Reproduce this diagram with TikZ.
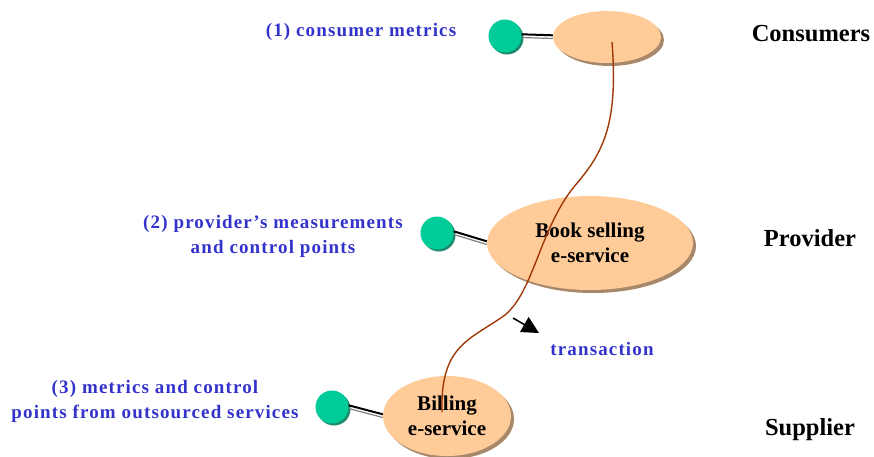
\documentclass[tikz,border=0pt]{standalone}
\usepackage{fontspec}
\setmainfont{Liberation Serif}
\newfontfamily\metricfont[LetterSpace=6]{Liberation Serif}
\definecolor{peach}{HTML}{FFCC99}
\definecolor{peachshadow}{HTML}{A8886A}
\definecolor{teal}{HTML}{00CC99}
\definecolor{tealshadow}{HTML}{1E8A6C}
\definecolor{labelblue}{HTML}{3333CC}
\definecolor{wire}{HTML}{A03808}
\tikzset{
  service/.style={ellipse, fill=peach, inner sep=0pt, align=center, font=\bfseries\fontsize{21}{25.5}\selectfont},
  probe/.style={circle, fill=teal, minimum size=33pt, inner sep=0pt},
  metric/.style={text=labelblue, font=\metricfont\bfseries\fontsize{19}{25}\selectfont, align=center},
  tier/.style={font=\bfseries\fontsize{24.5}{28}\selectfont},
}
\usetikzlibrary{shapes.geometric,arrows.meta}
\begin{document}
\begin{tikzpicture}[x=1pt,y=-1pt]
\useasboundingbox (0,0) rectangle (874,456);
% shadows under the service ellipses
\fill[peachshadow] (610,40) ellipse [x radius=54, y radius=26];
\fill[peachshadow] (593,246) ellipse [x radius=103, y radius=47];
\fill[peachshadow] (450,419) ellipse [x radius=64, y radius=40];
% service ellipses
\node[service, minimum width=108pt, minimum height=52pt] (cons) at (607,37) {};
\node[service, minimum width=206pt, minimum height=94pt] (book) at (590,243) {Book selling\\e-service};
\node[service, minimum width=128pt, minimum height=80pt] (bill) at (447,416) {Billing\\e-service};
% probes with their lollipop stems
\foreach \p/\c in {p1/{(505,36)}, p2/{(437,233)}, p3/{(332,407)}} {
  \fill[tealshadow] \c ++(2,2) circle (16.5);
  \node[probe] (\p) at \c {};
}
\draw[gray, line width=1.2pt] ([yshift=-1.5]p1.east) -- ([yshift=-1.5]cons.west);
\draw[black, line width=2pt] ([yshift=1.7]p1.east) -- ([yshift=1.7]cons.west);
\draw[gray, line width=1.2pt] ([yshift=-1.5]p2.east) -- ([yshift=-1.5]book.west);
\draw[black, line width=2pt] ([yshift=1.7]p2.east) -- ([yshift=1.7]book.west);
\draw[gray, line width=1.2pt] ([yshift=-1.5]p3.east) -- ([yshift=-1.5]bill.west);
\draw[black, line width=2pt] ([yshift=1.7]p3.east) -- ([yshift=1.7]bill.west);
% transaction path across the three tiers
\coordinate (t0) at (612,42);
\coordinate (t1) at (442,412);
\draw[wire, line width=1.4pt] (t0) .. controls (618,120) and (605,150) .. (578,182)
  .. controls (540,225) and (535,290) .. (505,315)
  .. controls (470,340) and (440,345) .. (t1);
\coordinate (a0) at (513,318);
\coordinate (a1) at (539,333);
\draw[-{Triangle[length=17pt,width=17pt]}, line width=1.6pt] (a0) -- (a1);
% labels
\node[metric] (l1) at (361,32) {(1) consumer metrics};
\node[metric] (l2) at (273,236) {(2) provider’s measurements\\and control points};
\node[metric] (l3) at (155,401) {(3) metrics and control\\points from outsourced services};
\node[metric] (tr) at (602,349) {transaction};
\node[tier] (t-c) at (811,34) {Consumers};
\node[tier] (t-p) at (810,238) {Provider};
\node[tier] (t-s) at (810,430) {Supplier};
\end{tikzpicture}
\end{document}
